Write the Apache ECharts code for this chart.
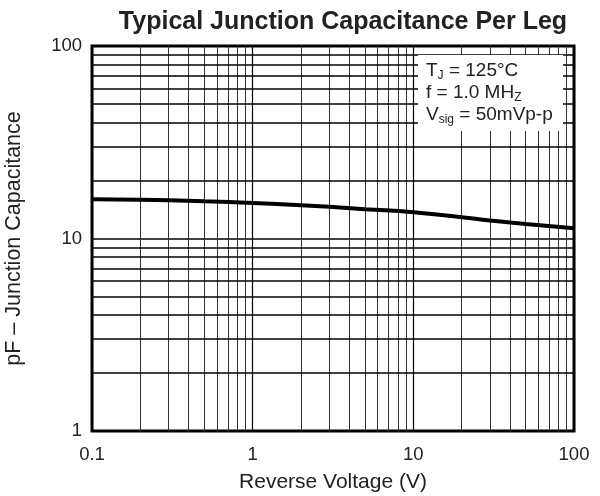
<!DOCTYPE html>
<html>
<head>
<meta charset="utf-8">
<script src="https://cdn.jsdelivr.net/npm/echarts@6/dist/echarts.min.js"></script>
<style>
  html, body { margin: 0; padding: 0; background: #fff; }
  #chart { width: 600px; height: 496px; }
</style>
</head>
<body>
<div id="chart"></div>
<script>
  // reverse voltage (V) and capacitance (pF)
  const voltage = [0.1, 0.2, 0.3, 0.5, 1, 2, 3, 5, 10, 20, 30, 50, 100]
  const capacitance = [16.0, 15.9, 15.8, 15.6, 15.3, 14.9, 14.6, 14.2, 13.7, 12.9, 12.4, 11.9, 11.3]

  // minor log grid lines (2..9 of each decade)
  const xMinorGrid = [0.2, 0.3, 0.4, 0.5, 0.6, 0.7, 0.8, 0.9, 2, 3, 4, 5, 6, 7, 8, 9, 20, 30, 40, 50, 60, 70, 80, 90]
  const yMinorGrid = [2, 3, 4, 5, 6, 7, 8, 9, 20, 30, 40, 50, 60, 70, 80, 90]

  const font = 'Liberation Sans, Arial, sans-serif'

  const chart = echarts.init(document.getElementById('chart'))

  const fmt = (v) => String(Math.round(v * 1000) / 1000)

  chart.setOption({
    animation: false,
    title: {
      text: 'Typical Junction Capacitance Per Leg',
      left: 338,
      textAlign: 'center',
      top: 5,
      textStyle: { fontFamily: font, fontSize: 25, fontWeight: 'bold', color: '#222' },
    },
    grid: {
      left: 92,
      right: 26,
      top: 46,
      bottom: 65,
      outerBoundsMode: 'none',
      containLabel: false,
      show: true,
      borderColor: '#000',
      borderWidth: 3,
    },
    xAxis: {
      type: 'log',
      logBase: 10,
      min: 0.1,
      max: 100,
      name: 'Reverse Voltage (V)',
      nameLocation: 'middle',
      nameGap: 41,
      nameTextStyle: { fontFamily: font, fontSize: 21, color: '#222' },
      axisLine: { show: false },
      axisTick: { show: false },
      axisLabel: { fontFamily: font, fontSize: 18.5, color: '#222', margin: 14, formatter: fmt },
      splitLine: { show: true, lineStyle: { color: '#000', width: 1.2 } },
    },
    yAxis: {
      type: 'log',
      logBase: 10,
      min: 1,
      max: 100,
      name: 'pF – Junction Capacitance',
      nameLocation: 'middle',
      nameGap: 67,
      nameTextStyle: { fontFamily: font, fontSize: 21.5, color: '#222' },
      axisLine: { show: false },
      axisTick: { show: false },
      axisLabel: { fontFamily: font, fontSize: 18.5, color: '#222', margin: 10, formatter: fmt },
      splitLine: { show: true, lineStyle: { color: '#000', width: 1.6 } },
    },
    series: [
      {
        // carries the minor grid lines
        type: 'line',
        data: voltage.map((v, i) => [v, capacitance[i]]),
        showSymbol: false,
        lineStyle: { width: 0, opacity: 0 },
        silent: true,
        z: 1,
        markLine: {
          silent: true,
          symbol: 'none',
          label: { show: false },
          animation: false,
          data: [
            ...xMinorGrid.map((v) => ({ xAxis: v, lineStyle: { color: '#333', width: 1, type: 'solid' } })),
            ...yMinorGrid.map((v) => ({ yAxis: v, lineStyle: { color: '#000', width: 1.6, type: 'solid' } })),
          ],
        },
      },
      {
        type: 'line',
        data: voltage.map((v, i) => [v, capacitance[i]]),
        smooth: true,
        showSymbol: false,
        lineStyle: { color: '#000', width: 4 },
        z: 5,
      },
    ],
    graphic: [
      {
        type: 'rect',
        shape: { x: 418, y: 55, width: 145, height: 76 },
        style: { fill: '#fff' },
        z: 100,
      },
      {
        type: 'text',
        left: 426,
        top: 61,
        z: 101,
        style: {
          text: '{n|T}{s|J}{n| = 125°C}\n{n|f = 1.0 MH}{s|Z}\n{n|V}{s|sig}{n| = 50mVp-p}',
          fill: '#222',
          font: '19px ' + font,
          rich: {
            n: { fontFamily: font, fontSize: 19, lineHeight: 22, fill: '#222' },
            s: { fontFamily: font, fontSize: 12, lineHeight: 14, verticalAlign: 'bottom', fill: '#222' },
          },
        },
      },
    ],
  })
</script>
</body>
</html>
